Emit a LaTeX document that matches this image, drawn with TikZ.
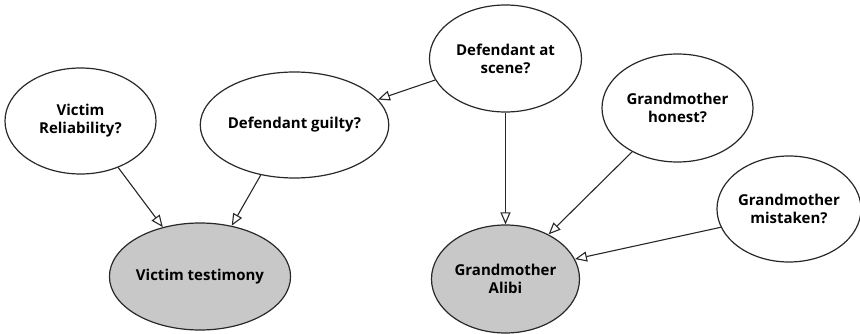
\documentclass[tikz,border=0pt]{standalone}
\usepackage{fontspec}
\setmainfont{Open Sans}
\usetikzlibrary{shapes.geometric,arrows.meta}
\definecolor{nodegray}{RGB}{200,200,200}
\definecolor{inkline}{RGB}{40,40,40}
\begin{document}
\begin{tikzpicture}[x=1pt,y=-1pt,
  var/.style={ellipse,draw=inkline,line width=1.2pt,fill=white,inner sep=0pt,
    align=center,text=black,font=\bfseries\fontsize{15}{18}\selectfont},
  observed/.style={var,fill=nodegray},
  link/.style={draw=inkline,line width=1.1pt,-{Triangle[open,length=12pt,width=10pt]}}]
  \useasboundingbox (0,0) rectangle (860,334);

  % hypothesis and reliability variables
  \node[var,minimum width=151pt,minimum height=106pt] (vr) at (80.5,121) {Victim\\Reliability?};
  \node[var,minimum width=153pt,minimum height=106pt] (dg) at (294.5,125) {Defendant guilty?};
  \node[var,minimum width=152pt,minimum height=107pt] (ds) at (505.5,58.5) {Defendant at\\scene?};
  \node[var,minimum width=151pt,minimum height=108pt] (gh) at (677.5,108) {Grandmother\\honest?};
  \node[var,minimum width=140pt,minimum height=106pt] (gm) at (789,209) {Grandmother\\mistaken?};

  % evidence variables
  \node[observed,minimum width=150pt,minimum height=107pt] (vt) at (200,276.5) {Victim testimony};
  \node[observed,minimum width=148pt,minimum height=108pt] (ga) at (505.5,279) {Grandmother\\Alibi};

  % dependencies
  \draw[link] (vr.-51.6) -- (vt.127.7);
  \draw[link] (dg.236.7) -- (vt.58.3);
  \draw[link] (ds.197.3) -- (dg.17.3);
  \draw[link] (ds.south) -- (ga.north);
  \draw[link] (gh.224.7) -- (ga.46);
  \draw[link] (gm.195) -- (ga.16);
\end{tikzpicture}
\end{document}
